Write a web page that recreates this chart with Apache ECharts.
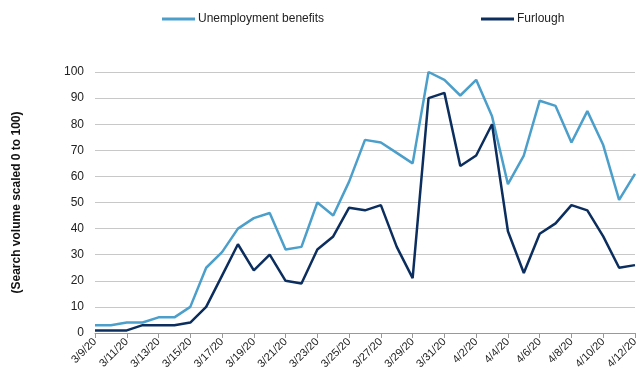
<!DOCTYPE html>
<html>
<head>
<meta charset="utf-8">
<script src="https://cdn.jsdelivr.net/npm/echarts@6/dist/echarts.min.js"></script>
<style>
  html, body { margin: 0; padding: 0; background: #fff; }
  #chart { width: 641px; height: 375px; }
</style>
</head>
<body>
<div id="chart"></div>
<script>
// dates 3/9/20 .. 4/12/20
const dates = [
  "3/9/20", "3/10/20", "3/11/20", "3/12/20", "3/13/20", "3/14/20", "3/15/20",
  "3/16/20", "3/17/20", "3/18/20", "3/19/20", "3/20/20", "3/21/20", "3/22/20",
  "3/23/20", "3/24/20", "3/25/20", "3/26/20", "3/27/20", "3/28/20", "3/29/20",
  "3/30/20", "3/31/20", "4/1/20", "4/2/20", "4/3/20", "4/4/20", "4/5/20",
  "4/6/20", "4/7/20", "4/8/20", "4/9/20", "4/10/20", "4/11/20", "4/12/20"
];
const unemployment = [
  3, 3, 4, 4, 6, 6, 10, 25, 31, 40, 44, 46, 32, 33, 50, 45, 58, 74, 73, 69,
  65, 100, 97, 91, 97, 83, 57, 68, 89, 87, 73, 85, 72, 51, 61
];
const furlough = [
  1, 1, 1, 3, 3, 3, 4, 10, 22, 34, 24, 30, 20, 19, 32, 37, 48, 47, 49, 33,
  21, 90, 92, 64, 68, 80, 39, 23, 38, 42, 49, 47, 37, 25, 26
];

const font = "Liberation Sans, Arial, sans-serif";
const chart = echarts.init(document.getElementById("chart"));

const legendBase = {
  top: 8,
  itemWidth: 33,
  itemHeight: 3,
  itemGap: 0,
  icon: "rect",
  textStyle: { fontFamily: font, fontSize: 12, color: "#222", padding: [0, 0, 0, -2] }
};

chart.setOption({
  animation: false,
  legend: [
    Object.assign({}, legendBase, { left: 157, data: ["Unemployment benefits"] }),
    Object.assign({}, legendBase, { left: 476, data: ["Furlough"] })
  ],
  grid: { left: 95, right: 3, top: 72, bottom: 42 },
  xAxis: {
    type: "category",
    data: dates,
    boundaryGap: false,
    axisLine: { lineStyle: { color: "#999" } },
    axisTick: { interval: 1, length: 5, lineStyle: { color: "#999" } },
    axisLabel: {
      interval: 1,
      rotate: 45,
      fontFamily: font,
      fontSize: 11,
      color: "#222",
      margin: 7
    }
  },
  yAxis: {
    type: "value",
    min: 0,
    max: 100,
    interval: 10,
    name: "(Search volume scaled 0 to 100)",
    nameLocation: "middle",
    nameGap: 72,
    nameTextStyle: { fontFamily: font, fontSize: 12, fontWeight: "bold", color: "#111" },
    axisLine: { show: false },
    axisTick: { show: false },
    axisLabel: { fontFamily: font, fontSize: 12, color: "#222", margin: 11 },
    splitLine: { lineStyle: { color: "#c8c8c8", width: 1 } }
  },
  series: [
    {
      name: "Unemployment benefits",
      type: "line",
      data: unemployment,
      symbol: "none",
      color: "#4b9fca",
      lineStyle: { width: 2.5 }
    },
    {
      name: "Furlough",
      type: "line",
      data: furlough,
      symbol: "none",
      color: "#0c2e5e",
      lineStyle: { width: 2.5 }
    }
  ]
});
</script>
</body>
</html>
